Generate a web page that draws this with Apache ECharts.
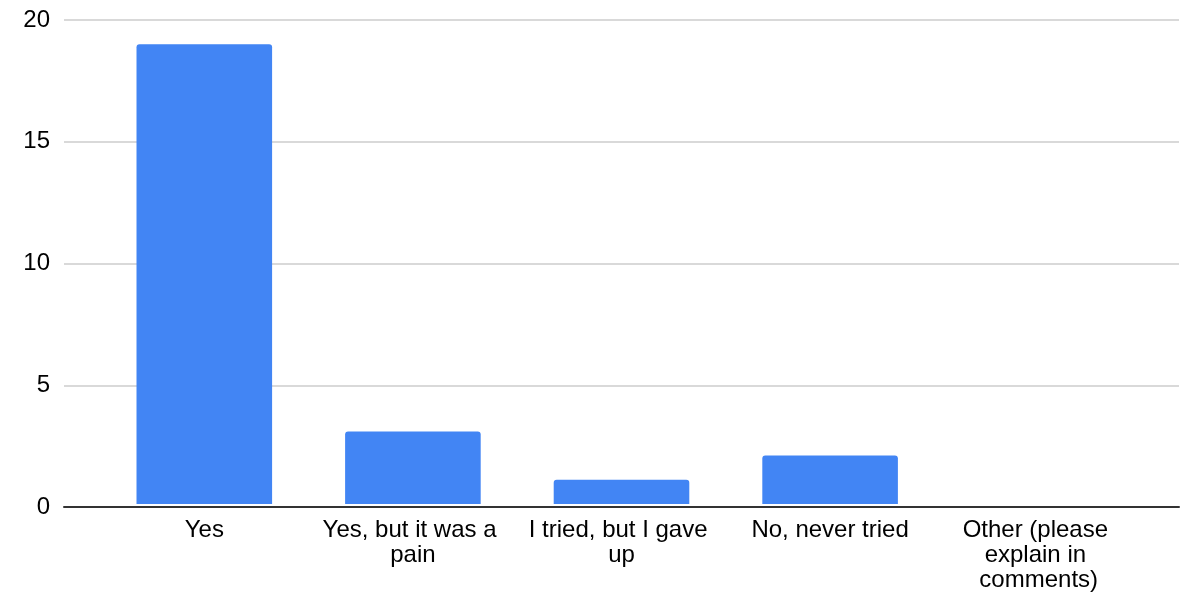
<!DOCTYPE html>
<html>
<head>
<meta charset="utf-8">
<script src="https://cdn.jsdelivr.net/npm/echarts@6/dist/echarts.min.js"></script>
<style>html,body{margin:0;padding:0;background:#fff}#c{width:1186px;height:593px}</style>
</head>
<body>
<div id="c"></div>
<script>
const categories = ["Yes", "Yes, but it was a pain", "I tried, but I gave up", "No, never tried", "Other (please explain in comments)"];
const counts = [19, 3, 1, 2, 0];
const yMin = 0, yMax = 20, yStep = 5;

const FONT = "Liberation Sans, Arial, Helvetica, sans-serif";
const chart = echarts.init(document.getElementById('c'), null, {renderer: 'canvas'});
chart.setOption({
  animation: false,
  backgroundColor: '#ffffff',
  grid: [
    {left: 64, right: 7, top: 20, bottom: 86},
    {left: 100, right: 43, top: 20, bottom: 86}
  ],
  xAxis: [
    {
      gridIndex: 0, type: 'value', min: 0, max: 1,
      axisLabel: {show: false}, axisTick: {show: false}, splitLine: {show: false},
      axisLine: {show: true, lineStyle: {color: '#333333', width: 2}}
    },
    {
      gridIndex: 1, type: 'category', data: categories,
      axisLine: {show: false}, axisTick: {show: false},
      axisLabel: {
        interval: 0, color: '#000000', fontFamily: FONT, fontSize: 24,
        lineHeight: 25, margin: 14, width: 192, overflow: 'break', align: 'center'
      }
    }
  ],
  yAxis: [
    {
      gridIndex: 0, type: 'value', min: yMin, max: yMax, interval: yStep,
      axisLine: {show: false}, axisTick: {show: false},
      axisLabel: {color: '#000000', fontFamily: FONT, fontSize: 24, margin: 14},
      splitLine: {show: true, lineStyle: {color: '#cccccc', width: 1.5}}
    },
    {
      gridIndex: 1, type: 'value', min: yMin, max: yMax, interval: yStep,
      axisLine: {show: false}, axisTick: {show: false}, axisLabel: {show: false},
      splitLine: {show: false}
    }
  ],
  series: [{
    type: 'bar', xAxisIndex: 1, yAxisIndex: 1, data: counts,
    barWidth: '65%',
    itemStyle: {color: '#4285F4', borderRadius: [3, 3, 0, 0]},
    z: 1
  }]
});
</script>
</body>
</html>
